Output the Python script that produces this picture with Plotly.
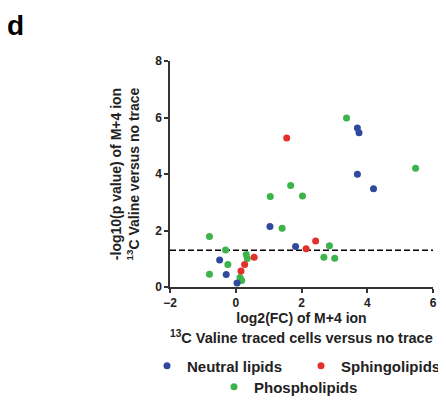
import plotly.graph_objects as go

neutral_x = [3.70, 3.75, 3.70, 4.19, 1.04, 1.82, -0.49, -0.29, 0.04]
neutral_y = [5.63, 5.46, 3.99, 3.48, 2.14, 1.43, 0.96, 0.44, 0.14]

sphingo_x = [1.55, 2.43, 2.14, 0.56, 0.27, 0.16]
sphingo_y = [5.27, 1.63, 1.35, 1.05, 0.80, 0.57]

phospho_x = [3.37, 5.47, 1.67, 1.05, 2.03, 1.41, -0.80, -0.31, 2.85, 2.68, 3.01,
             -0.24, -0.80, 0.32, 0.35, 0.13, 0.18]
phospho_y = [5.98, 4.20, 3.59, 3.20, 3.22, 2.08, 1.79, 1.31, 1.46, 1.05, 1.02,
             0.80, 0.45, 1.15, 1.01, 0.34, 0.23]

threshold = 1.3
x_range = [-2, 6]
y_range = [0, 8]
x_ticks = [-2, 0, 2, 4, 6]
y_ticks = [0, 2, 4, 6, 8]

FONT = "Arial, Liberation Sans, sans-serif"
BLUE = "#2e4a9e"
RED = "#e4302b"
GREEN = "#3cb44a"

# page body has an 8px margin; figure is sized so it ends at the window edge
OFF = 8
W, H = 446 - OFF, 403 - OFF
L, T = 170 - OFF, 61 - OFF
PW, PH = 263, 226
R, B = W - L - PW, H - T - PH

fig = go.Figure()

fig.add_trace(go.Scatter(x=x_range, y=[threshold, threshold], mode="lines",
                         line=dict(color="black", width=1.6, dash="6px,3px"),
                         showlegend=False, hoverinfo="skip"))

fig.add_trace(go.Scatter(x=phospho_x, y=phospho_y, mode="markers", name="Phospholipids",
                         marker=dict(color=GREEN, size=7), legend="legend3"))
fig.add_trace(go.Scatter(x=neutral_x, y=neutral_y, mode="markers", name="Neutral lipids",
                         marker=dict(color=BLUE, size=7), legend="legend"))
fig.add_trace(go.Scatter(x=sphingo_x, y=sphingo_y, mode="markers", name="Sphingolipids",
                         marker=dict(color=RED, size=7), legend="legend2"))

axis_common = dict(
    showline=True, linecolor="#333333", linewidth=1.5,
    ticks="outside", ticklen=4, tickwidth=1.5, tickcolor="#333333",
    showgrid=False, zeroline=False, automargin=False,
    tickfont=dict(family=FONT, size=12, color="#222222", weight="bold"),
)


def leg(px, py, anchor="left"):
    return dict(orientation="h", xref="container", yref="container",
                x=(px - OFF) / W, y=1 - (py - OFF) / H, xanchor=anchor, yanchor="middle",
                font=dict(family=FONT, size=15, weight="bold", color="#222222"),
                bgcolor="rgba(0,0,0,0)")


fig.update_layout(
    width=W, height=H,
    margin=dict(l=L, r=R, t=T, b=B, autoexpand=False),
    paper_bgcolor="white", plot_bgcolor="white",
    font=dict(family=FONT, color="#222222"),
    xaxis=dict(range=x_range, tickvals=x_ticks, **axis_common,
               title=dict(text="log2(FC) of M+4 ion",
                          font=dict(family=FONT, size=14, weight="bold"), standoff=3)),
    yaxis=dict(range=y_range, tickvals=y_ticks, **axis_common,
               title=dict(text="-log10(p value) of M+4 ion<br><sup>13</sup>C Valine versus no trace",
                          font=dict(family=FONT, size=14, weight="bold"), standoff=12)),
    legend=leg(147, 366),
    legend2=leg(446, 366, "right"),
    legend3=leg(214, 387),
    annotations=[
        dict(text="d", xref="paper", yref="paper",
             x=(15 - OFF - L) / PW, y=1 + T / PH,
             xanchor="center", yanchor="top", showarrow=False,
             font=dict(family=FONT, size=28, weight="bold", color="black")),
        dict(text="<sup>13</sup>C Valine traced cells versus no trace", xref="paper", yref="paper",
             x=0.5, y=-((337 - OFF) - (T + PH)) / PH, xanchor="center", yanchor="middle",
             showarrow=False,
             font=dict(family=FONT, size=14.5, weight="bold", color="#222222")),
    ],
)

fig.write_html("out.html")
